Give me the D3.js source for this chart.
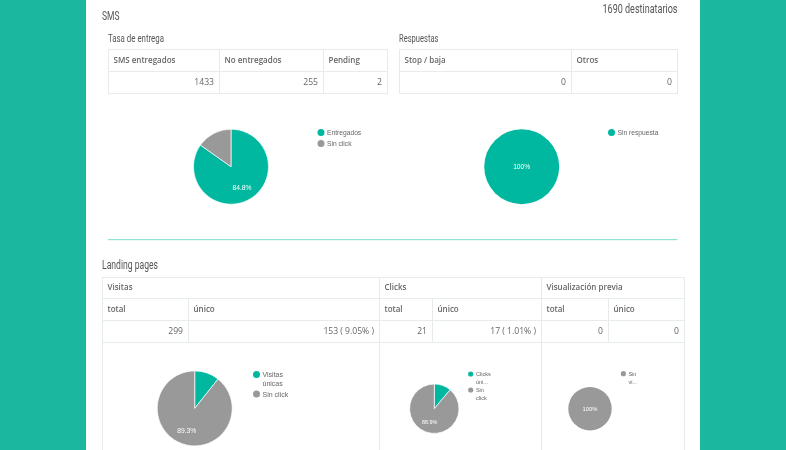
<!DOCTYPE html>
<html>
<head>
<meta charset="utf-8">
<script src="https://cdn.jsdelivr.net/npm/d3@7"></script>
<style>
  html, body { margin: 0; padding: 0; background: #1bb89f; overflow: hidden; }
  svg { display: block; filter: blur(0.35px); }
</style>
</head>
<body>
<div id="chart"></div>
<script>
// table contents
let deliveryHeaders = ["SMS entregados", "No entregados", "Pending"];
let deliveryValues = ["1433", "255", "2"];
let replyHeaders = ["Stop / baja", "Otros"];
let replyValues = ["0", "0"];
let landingGroups = ["Visitas", "Clicks", "Visualización previa"];
let landingHeaders = ["total", "único", "total", "único", "total", "único"];
let landingValues = ["299", "153 ( 9.05% )", "21", "17 ( 1.01% )", "0", "0"];

// pie contents
let deliveryPieLabels = ["Entregados", "Sin click"];
let deliveryPieValues = [84.8, 15.2];
let replyPieLabels = ["Sin respuesta"];
let replyPieValues = [100];
let visitsPieLabels = [["Visitas", "únicas"], ["Sin click"]];
let visitsPieValues = [10.7, 89.3];
let clicksPieLabels = [["Clicks", "úni..."], ["Sin", "click"]];
let clicksPieValues = [11.1, 88.9];
let previewPieLabels = [["Sin", "vi..."]];
let previewPieValues = [100];

const teal = "#00b8a0";
const grey = "#999999";
const border = "#e6ecec";
const textColor = "#666666";
const titleFont = "Roboto, sans-serif";
const cellFont = "'Open Sans', sans-serif";
const pieFont = "'Liberation Sans', Arial, sans-serif";

let svg = d3.select("#chart").append("svg").attr("width", 786).attr("height", 450);

svg.append("rect").attr("x", 86).attr("y", 0).attr("width", 614).attr("height", 450).attr("fill", "#ffffff");

// headings are a condensed face in the original, so squeeze them to the measured width
function title(text, x, y, size, width, anchor) {
  svg.append("text")
    .attr("x", x).attr("y", y)
    .attr("text-anchor", anchor || "start")
    .attr("font-family", titleFont)
    .attr("font-size", size)
    .attr("textLength", width)
    .attr("lengthAdjust", "spacingAndGlyphs")
    .attr("fill", "#555555")
    .text(text);
}

function cell(x0, x1, y0, y1, text, alignRight, bold) {
  svg.append("rect")
    .attr("x", x0 + 0.5).attr("y", y0 + 0.5)
    .attr("width", x1 - x0).attr("height", y1 - y0)
    .attr("fill", "#ffffff")
    .attr("stroke", border)
    .attr("stroke-width", 1);
  svg.append("text")
    .attr("x", alignRight ? x1 - 5 : x0 + 5.5)
    .attr("y", (y0 + y1) / 2 + (bold ? 2.6 : 3.4))
    .attr("text-anchor", alignRight ? "end" : "start")
    .attr("font-family", cellFont)
    .attr("font-size", bold ? 8 : 8.6)
    .attr("font-weight", bold ? 600 : 400)
    .attr("fill", textColor)
    .text(text);
}

function simpleTable(edges, rows, headers, values) {
  headers.forEach(function(d, i) { cell(edges[i], edges[i + 1], rows[0], rows[1], d, false, true); });
  values.forEach(function(d, i) { cell(edges[i], edges[i + 1], rows[1], rows[2], d, true, false); });
}

function pieChart(opt) {
  let colour = d3.scaleOrdinal().domain(d3.range(opt.values.length)).range(opt.colours);
  let pie = d3.pie().sort(null);
  let arc = d3.arc().innerRadius(0).outerRadius(opt.r);
  let g = svg.append("g").attr("transform", "translate(" + opt.cx + "," + opt.cy + ")");

  g.selectAll("path")
    .data(pie(opt.values))
    .enter().append("path")
      .attr("d", arc)
      .attr("fill", function(d, i) { return colour(i); })
      .attr("stroke", "#ffffff")
      .attr("stroke-width", opt.values.length > 1 ? 0.7 : 0);

  let labelArc = d3.arc().innerRadius(opt.labelAt * opt.r).outerRadius(opt.labelAt * opt.r);
  let biggest = pie(opt.values).reduce(function(a, b) { return b.value > a.value ? b : a; });
  let pos = opt.values.length > 1 ? labelArc.centroid(biggest) : [0, 0];
  g.append("text")
    .attr("x", pos[0]).attr("y", pos[1] + 2.3)
    .attr("text-anchor", "middle")
    .attr("font-family", pieFont)
    .attr("font-size", opt.fontSize)
    .attr("fill", "#ffffff")
    .text(d3.format(biggest.value === 100 ? ".0f" : ".1f")(biggest.value) + "%");

  // legend, entries may wrap over two lines
  let y = opt.legendY;
  opt.labels.forEach(function(lines, i) {
    let rows = Array.isArray(lines) ? lines : [lines];
    svg.append("circle")
      .attr("cx", opt.legendX).attr("cy", y).attr("r", opt.legendR)
      .attr("fill", colour(i));
    rows.forEach(function(t, j) {
      svg.append("text")
        .attr("x", opt.legendX + opt.legendGap)
        .attr("y", y + 2.4 + j * opt.lineStep)
        .attr("font-family", pieFont)
        .attr("font-size", opt.legendSize)
        .attr("fill", "#666666")
        .text(t);
    });
    y += rows.length * opt.lineStep + opt.entryGap;
  });
}

// SMS section
title("SMS", 102, 19.5, 13, 17.5);
title("1690 destinatarios", 677.5, 13, 13, 75, "end");
title("Tasa de entrega", 108, 41.8, 11, 56);
title("Respuestas", 399, 41.8, 11, 39.5);

simpleTable([108, 219, 323, 387], [49, 71, 93], deliveryHeaders, deliveryValues);
simpleTable([399, 571, 677], [49, 71, 93], replyHeaders, replyValues);

pieChart({ cx: 231, cy: 166.7, r: 37.5, values: deliveryPieValues, labels: deliveryPieLabels, colours: [teal, grey],
  labelAt: 0.64, fontSize: 6.7, legendX: 321, legendY: 132.5, lineStep: 0, entryGap: 11,
  legendR: 3.5, legendGap: 6, legendSize: 6.7 });
pieChart({ cx: 521.7, cy: 166.7, r: 37.5, values: replyPieValues, labels: replyPieLabels, colours: [teal],
  labelAt: 0.64, fontSize: 6.7, legendX: 611.5, legendY: 132.5, lineStep: 0, entryGap: 11,
  legendR: 3.5, legendGap: 6, legendSize: 6.7 });

// divider between the two sections
svg.append("rect")
  .attr("x", 108).attr("y", 239)
  .attr("width", 569.5).attr("height", 1.2)
  .attr("fill", "#8ee3d6");

// Landing pages section
title("Landing pages", 102, 269, 12.5, 56);

let groupEdges = [102, 379, 541, 684];
let colEdges = [102, 188, 379, 432, 541, 608, 684];
landingGroups.forEach(function(d, i) { cell(groupEdges[i], groupEdges[i + 1], 277, 298, d, false, true); });
landingHeaders.forEach(function(d, i) { cell(colEdges[i], colEdges[i + 1], 298, 320, d, false, true); });
landingValues.forEach(function(d, i) { cell(colEdges[i], colEdges[i + 1], 320, 342, d, true, false); });
groupEdges.slice(0, -1).forEach(function(d, i) { cell(d, groupEdges[i + 1], 342, 470, "", false, false); });

pieChart({ cx: 194.7, cy: 408.4, r: 37.5, values: visitsPieValues, labels: visitsPieLabels, colours: [teal, grey],
  labelAt: 0.64, fontSize: 6.7, legendX: 256.5, legendY: 374.5, lineStep: 8.6, entryGap: 2.4,
  legendR: 3.5, legendGap: 6, legendSize: 7 });
pieChart({ cx: 434.3, cy: 408.7, r: 24.7, values: clicksPieValues, labels: clicksPieLabels, colours: [teal, grey],
  labelAt: 0.55, fontSize: 5.4, legendX: 470.7, legendY: 374, lineStep: 7.5, entryGap: 1,
  legendR: 2.6, legendGap: 5.2, legendSize: 5.6 });
pieChart({ cx: 590, cy: 408.7, r: 21.7, values: previewPieValues, labels: previewPieLabels, colours: [grey],
  labelAt: 0.55, fontSize: 5.8, legendX: 623.4, legendY: 373.7, lineStep: 7.8, entryGap: 1,
  legendR: 2.6, legendGap: 5, legendSize: 5.6 });
</script>
</body>
</html>
